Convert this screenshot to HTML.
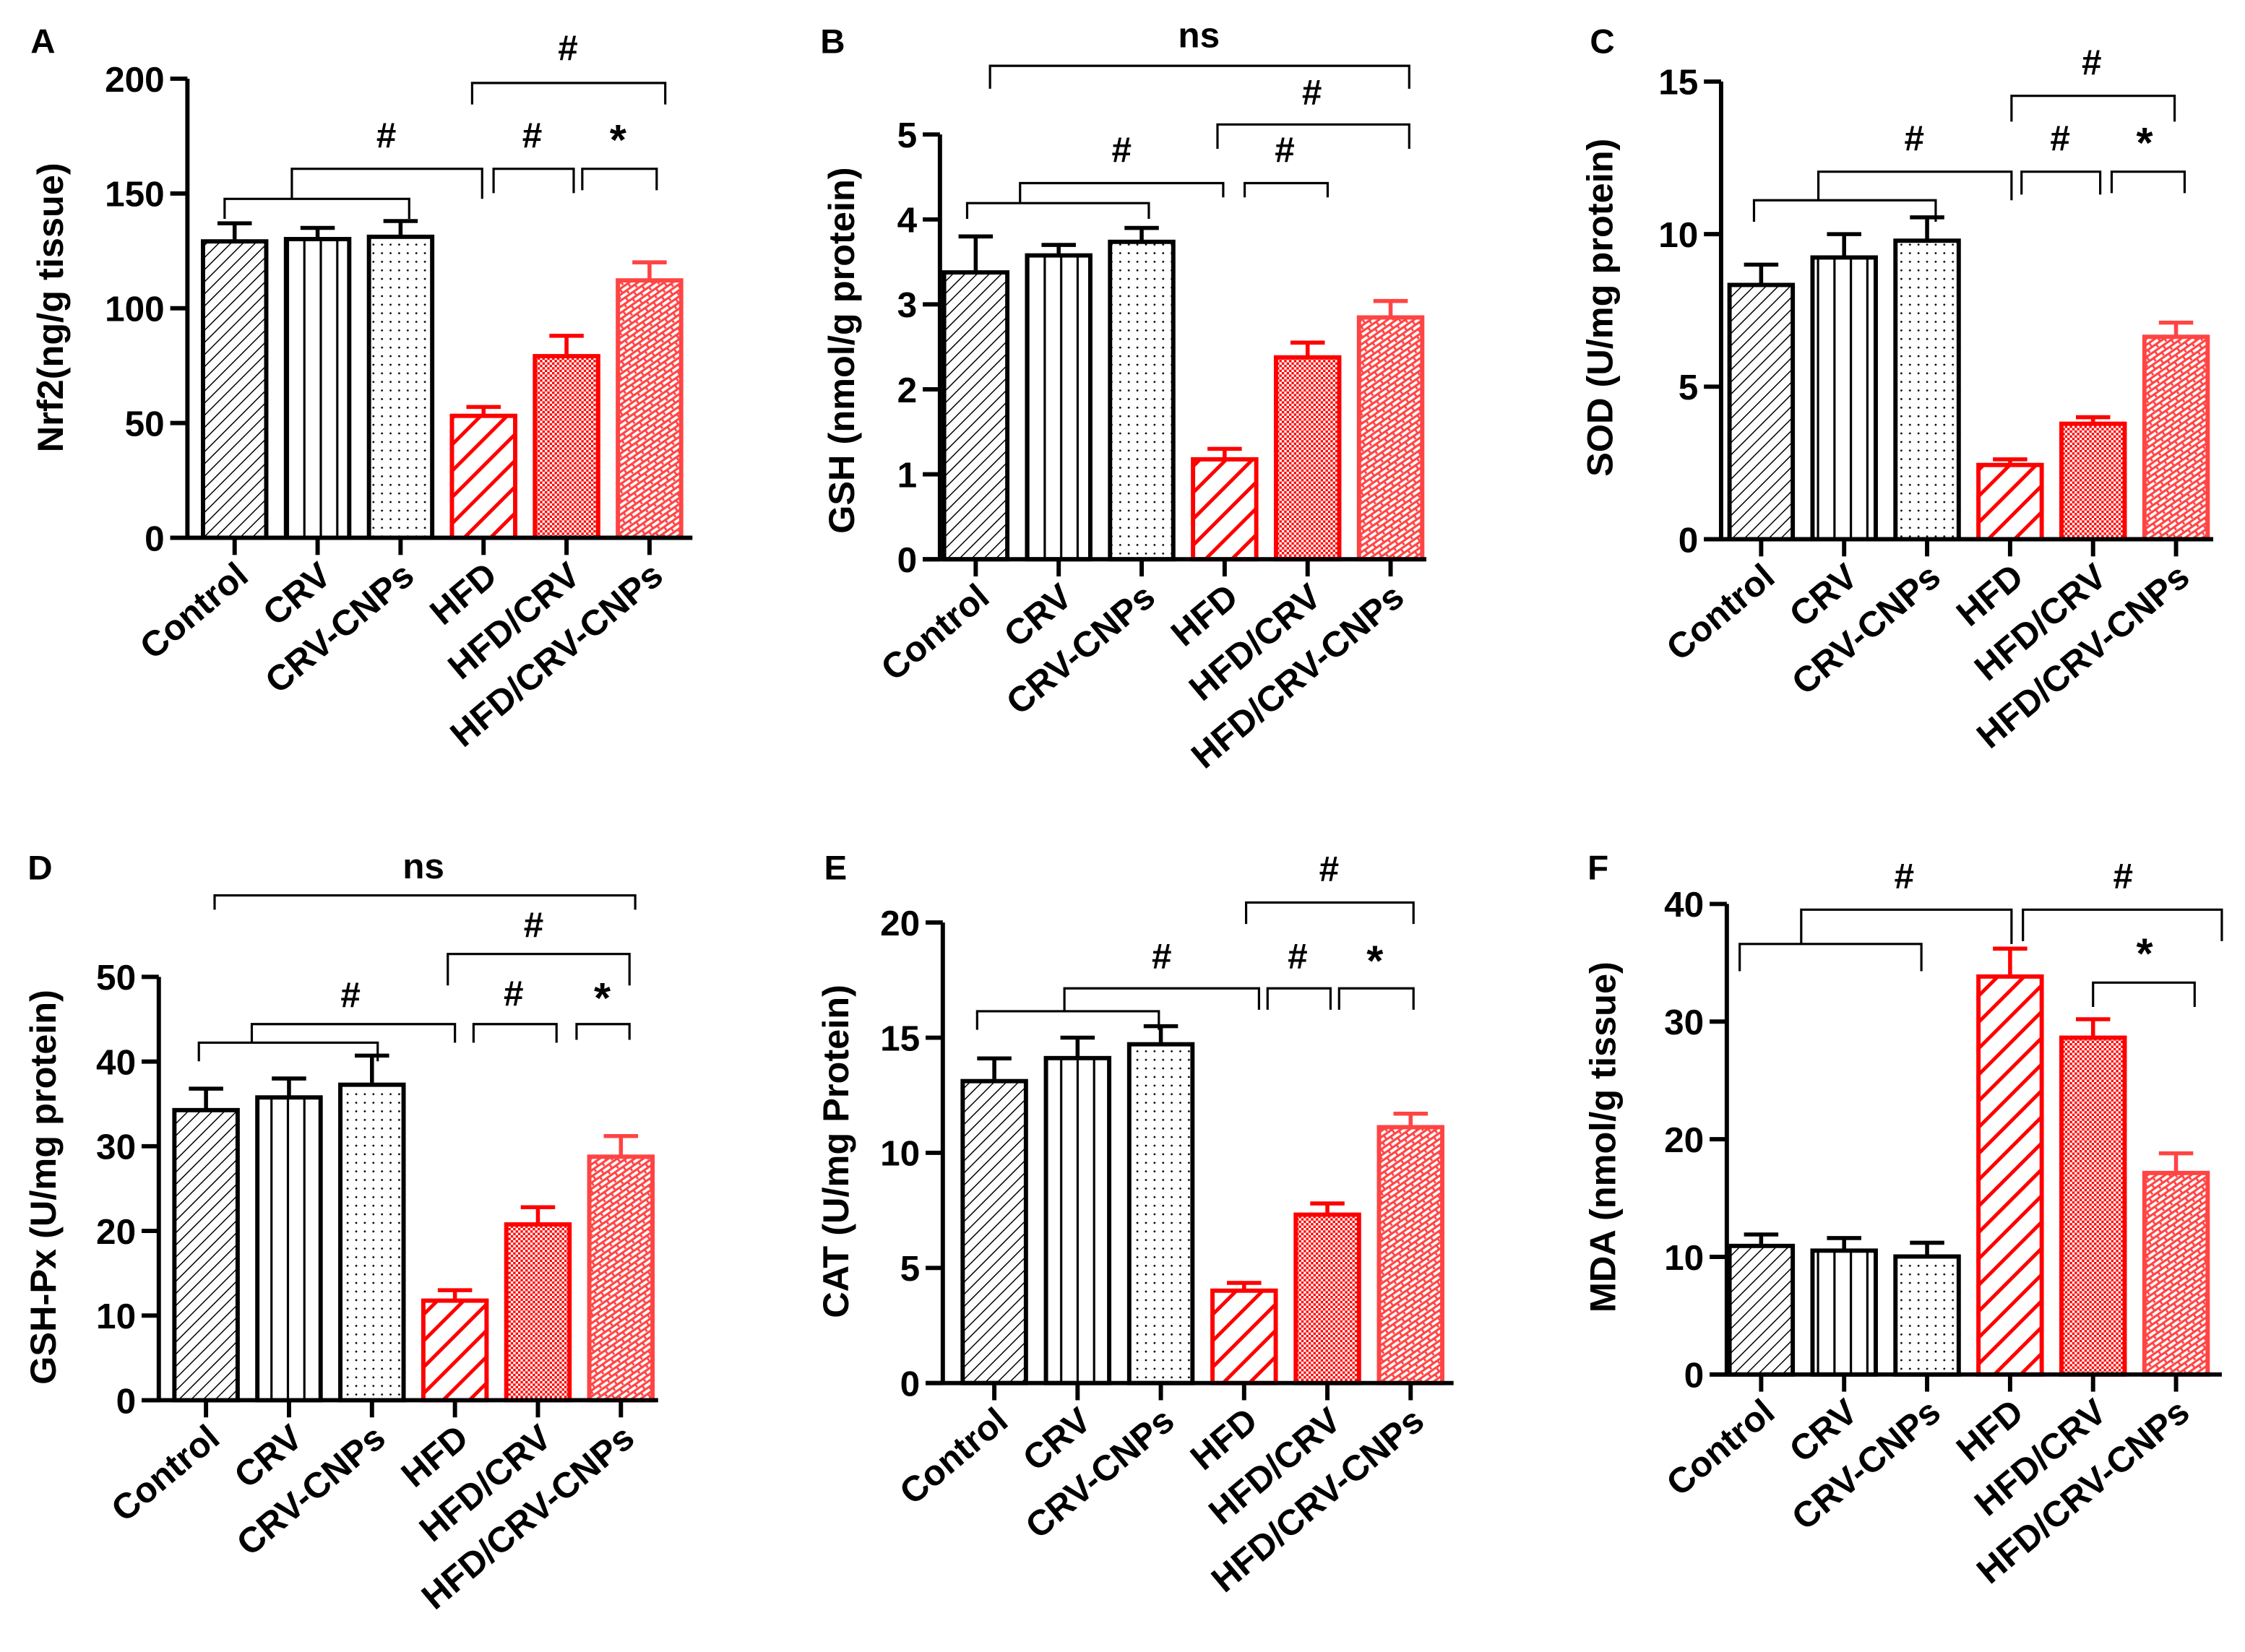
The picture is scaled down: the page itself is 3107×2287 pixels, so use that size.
<!DOCTYPE html>
<html><head><meta charset="utf-8">
<style>
html,body{margin:0;padding:0;background:#fff;}
svg{display:block;}
text{font-family:"Liberation Sans",Arial,sans-serif;font-weight:bold;}
</style></head>
<body>
<svg id="fig" width="3107" height="2287" viewBox="0 0 1569.2 1155" xmlns="http://www.w3.org/2000/svg">
<defs>
<pattern id="pCtrl" patternUnits="userSpaceOnUse" width="6" height="6" patternTransform="rotate(45)"><line x1="0" y1="0" x2="0" y2="6" stroke="#000" stroke-width="1.5"/></pattern>
<pattern id="pCrv" patternUnits="userSpaceOnUse" width="11.5" height="10"><line x1="5.75" y1="0" x2="5.75" y2="10" stroke="#000" stroke-width="1.6"/></pattern>
<pattern id="pCnp" patternUnits="userSpaceOnUse" width="6" height="6"><circle cx="3" cy="3" r="0.7" fill="#000"/></pattern>
<pattern id="pHfd" patternUnits="userSpaceOnUse" width="13" height="13" patternTransform="rotate(45)"><line x1="0" y1="0" x2="0" y2="13" stroke="#f00" stroke-width="5"/></pattern>
<pattern id="pHc" patternUnits="userSpaceOnUse" width="3.4" height="3.4"><rect x="0" y="0" width="1.7" height="1.7" fill="#f00"/><rect x="1.7" y="1.7" width="1.7" height="1.7" fill="#f00"/></pattern>
<pattern id="pHcc" patternUnits="userSpaceOnUse" width="7" height="7" patternTransform="rotate(-35)"><line x1="0" y1="1" x2="7" y2="1" stroke="#f44" stroke-width="1.6"/><line x1="1" y1="1" x2="1" y2="4.5" stroke="#f44" stroke-width="1.4"/><line x1="0" y1="4.5" x2="7" y2="4.5" stroke="#f44" stroke-width="1.6"/><line x1="4.5" y1="4.5" x2="4.5" y2="8" stroke="#f44" stroke-width="1.4"/></pattern>
</defs>
</svg>
<script>
const categories = ["Control","CRV","CRV-CNPs","HFD","HFD/CRV","HFD/CRV-CNPs"];
const nrf2Values = [130,131,132,54,80,113];
const nrf2Errors = [7,4,6,3,8,7];
const gshValues = [3.4,3.6,3.76,1.2,2.4,2.87];
const gshErrors = [0.4,0.1,0.14,0.1,0.15,0.17];
const sodValues = [8.4,9.3,9.85,2.5,3.85,6.7];
const sodErrors = [0.6,0.7,0.7,0.12,0.15,0.4];
const gpxValues = [34.5,36,37.5,12,21,29];
const gpxErrors = [2.3,2,3.2,1,1.8,2.2];
const catValues = [13.2,14.2,14.8,4.1,7.4,11.2];
const catErrors = [0.9,0.8,0.7,0.25,0.4,0.5];
const mdaValues = [11.1,10.7,10.2,34,28.8,17.3];
const mdaErrors = [0.8,0.9,1,2.2,1.4,1.5];
const nrf2Ticks = [0,50,100,150,200];
const gshTicks = [0,1,2,3,4,5];
const sodTicks = [0,5,10,15];
const gpxTicks = [0,10,20,30,40,50];
const catTicks = [0,5,10,15,20];
const mdaTicks = [0,10,20,30,40];

const fills = ["url(#pCtrl)","url(#pCrv)","url(#pCnp)","url(#pHfd)","url(#pHc)","url(#pHcc)"];
const strokes = ["#000","#000","#000","#f00","#f00","#f44"];
const NS = "http://www.w3.org/2000/svg";
const svg = document.getElementById("fig");
function mk(tag, attrs, parent){
  const e = document.createElementNS(NS, tag);
  for (const k in attrs) e.setAttribute(k, attrs[k]);
  (parent||svg).appendChild(e);
  return e;
}

const panels = [
 {id:"a",letter:"A",lx:30,ly:37,ax:131,y0:376,y1:55,max:200,x0:164,step:58,bw:47,xend:484,vals:nrf2Values,errs:nrf2Errors,ticks:nrf2Ticks,title:"Nrf2(ng/g tissue)",tx:35,ty:215,
  br:[[157,139,286,153,153],[204,118,337,139,139],[345,118,401,135,135],[407,118,459,133,133],[330,58,465,73,73]],
  sig:[["#",270,103],["#",372,103],["*",432,108],["#",397,42]]},
 {id:"b",letter:"B",lx:582,ly:37,ax:657,y0:391,y1:94,max:5,x0:682,step:58,bw:47,xend:997,vals:gshValues,errs:gshErrors,ticks:gshTicks,title:"GSH (nmol/g protein)",tx:588,ty:245,
  br:[[676,142,803,153,153],[713,128,855,142,138],[870,128,928,138,138],[851,87,985,104,104],[692,46,985,62,62]],
  sig:[["#",784,113],["#",898,113],["#",917,73],["ns",838,33]]},
 {id:"c",letter:"C",lx:1120,ly:37,ax:1203,y0:377,y1:57,max:15,x0:1231,step:58,bw:47,xend:1547,vals:sodValues,errs:sodErrors,ticks:sodTicks,title:"SOD (U/mg protein)",tx:1118,ty:215,
  br:[[1226,140,1353,155,155],[1271,120,1406,140,140],[1413,120,1468,136,136],[1476,120,1527,135,135],[1406,67,1520,85,85]],
  sig:[["#",1338,105],["#",1440,105],["*",1499,110],["#",1462,52]]},
 {id:"d",letter:"D",lx:28,ly:615,ax:111,y0:979,y1:683,max:50,x0:144,step:58,bw:47,xend:460,vals:gpxValues,errs:gpxErrors,ticks:gpxTicks,title:"GSH-Px (U/mg protein)",tx:30,ty:830,
  br:[[139,729,264,742,742],[176,716,318,729,729],[331,716,389,729,729],[403,716,440,727,727],[313,667,440,689,689],[150,626,444,636,636]],
  sig:[["#",245,704],["#",359,703],["*",421,708],["#",373,655],["ns",296,614]]},
 {id:"e",letter:"E",lx:584,ly:615,ax:659,y0:967,y1:645,max:20,x0:695,step:58.2,bw:47,xend:1016,vals:catValues,errs:catErrors,ticks:catTicks,title:"CAT (U/mg Protein)",tx:584,ty:805,
  br:[[683,707,810,720,720],[744,691,880,707,706],[886,691,930,706,706],[936,691,988,706,706],[871,631,988,646,646]],
  sig:[["#",812,677],["#",907,677],["*",961,682],["#",929,616]]},
 {id:"f",letter:"F",lx:1117,ly:615,ax:1207,y0:961,y1:632,max:40,x0:1231,step:58,bw:47,xend:1553,vals:mdaValues,errs:mdaErrors,ticks:mdaTicks,title:"MDA (nmol/g tissue)",tx:1120,ty:795,
  br:[[1216,660,1343,679,679],[1259,636,1406,660,660],[1414,636,1553,658,658],[1463,687,1534,704,704]],
  sig:[["#",1331,621],["#",1484,621],["*",1499,677]]}
];

panels.forEach(p=>{
  const g = mk("g",{});
  
  
  const yS = v => p.y0 - (v/p.max)*(p.y0-p.y1);
  const xS = i => p.x0 + i*p.step;
  const lt = mk("text",{x:p.lx,y:p.ly,"font-size":24,"text-anchor":"middle",fill:"#000"},g);
  lt.textContent = p.letter;
  
  
  p.vals.forEach((v,i)=>{
    const cx = xS(i), top = yS(v), et = yS(v+p.errs[i]);
    const bar = mk("rect",{x:cx-p.bw/2,y:top,width:p.bw,height:p.y0-top,fill:"#fff",stroke:"none"},g);
    
    
    mk("rect",{x:cx-p.bw/2,y:top,width:p.bw,height:p.y0-top,fill:fills[i],stroke:"none"},g);
    mk("rect",{x:cx-p.bw/2+1.4,y:top+1.4,width:p.bw-2.8,height:p.y0-top-1.4,fill:"none",stroke:strokes[i],"stroke-width":3},g);
    const eb = mk("path",{d:`M${cx},${top} V${et} M${cx-12},${et} H${cx+12}`,stroke:strokes[i],"stroke-width":2.8,fill:"none"},g);
    
    
  });
  const ya = mk("line",{x1:p.ax,y1:p.y1,x2:p.ax,y2:p.y0+1.4,stroke:"#000","stroke-width":3},g);
  
  
  const xa = mk("line",{x1:p.ax-12,y1:p.y0,x2:p.xend,y2:p.y0,stroke:"#000","stroke-width":3},g);
  
  
  p.ticks.forEach(t=>{
    const y = yS(t);
    mk("line",{x1:p.ax-12,y1:y,x2:p.ax,y2:y,stroke:"#000","stroke-width":3},g);
    const tl = mk("text",{x:p.ax-16,y:y+9,"font-size":25,"text-anchor":"end",fill:"#000"},g);
    tl.textContent = t;
    
    
  });
  categories.forEach((c,i)=>{
    const cx = xS(i);
    mk("line",{x1:cx,y1:p.y0,x2:cx,y2:p.y0+12,stroke:"#000","stroke-width":3},g);
    const cl = mk("text",{x:0,y:0,"font-size":25,"text-anchor":"end",fill:"#000",transform:`translate(${cx+11},${p.y0+29}) rotate(-40)`},g);
    cl.textContent = c;
    
    
  });
  const yt = mk("text",{x:0,y:0,"font-size":25.5,"text-anchor":"middle",fill:"#000",transform:`translate(${p.tx+9},${p.ty}) rotate(-90)`},g);
  yt.textContent = p.title;
  
  
  p.br.forEach(b=>{
    const br = mk("path",{d:`M${b[0]},${b[3]} V${b[1]} H${b[2]} V${b[4]}`,stroke:"#000","stroke-width":1.6,fill:"none"},g);
    
    
  });
  p.sig.forEach(s=>{
    const st = mk("text",{x:s[1],y:s[2],"font-size":s[0]==="*"?30:25,"text-anchor":"middle",fill:"#000"},g);
    st.textContent = s[0];
    
    
  });
});
</script>
</body></html>
